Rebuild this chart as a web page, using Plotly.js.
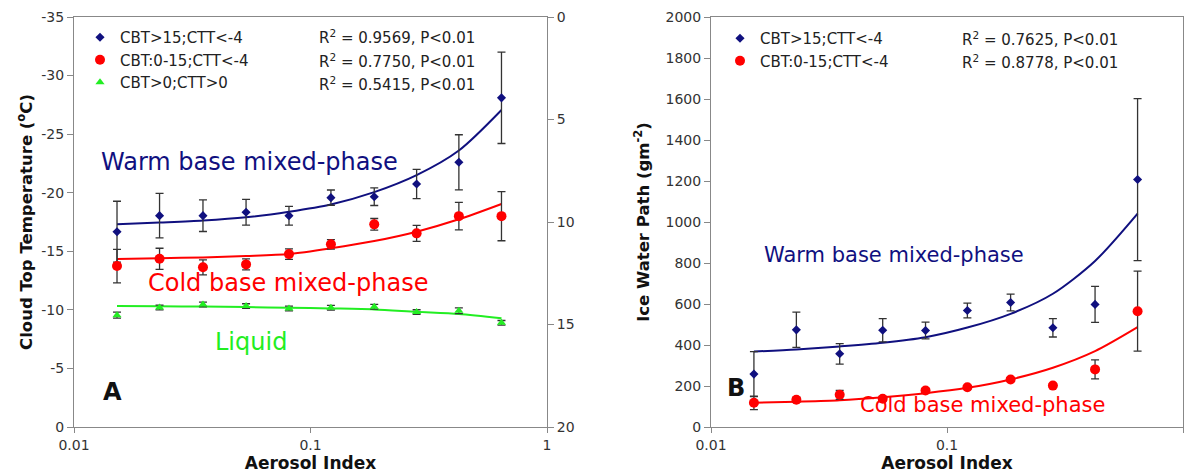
<!DOCTYPE html>
<html>
<head>
<meta charset="utf-8">
<script src="https://cdn.plot.ly/plotly-3.0.1.min.js"></script>
<style>html,body{margin:0;padding:0;background:#fff;}#chart{width:1186px;height:475px;}</style>
</head>
<body>
<div id="chart"></div>
<script>
// ---------- data ----------
const aerosolIndex = [0.0152, 0.023, 0.0351, 0.0534, 0.0811, 0.122, 0.186, 0.281, 0.424, 0.642];

// Panel A : cloud top temperature (°C)
const cttWarm     = [-16.67, -18.04, -18.04, -18.33, -18.04, -19.58, -19.66, -20.75, -22.6, -28.1];
const cttWarmErr  = [2.6, 1.9, 1.35, 1.1, 0.8, 0.65, 0.75, 1.25, 2.35, 3.9];
const cttWarmFit  = [-17.3, -17.45, -17.62, -17.9, -18.38, -19.0, -20.05, -21.5, -23.6, -27.06];
const cttCold     = [-13.74, -14.36, -13.63, -13.88, -14.76, -15.59, -17.3, -16.53, -18.0, -18.0];
const cttColdErr  = [1.43, 0.9, 0.64, 0.47, 0.45, 0.4, 0.5, 0.68, 1.17, 2.1];
const cttColdFit  = [-14.34, -14.4, -14.48, -14.59, -14.76, -15.25, -15.87, -16.67, -17.73, -19.04];
const cttLiq      = [-9.55, -10.2, -10.46, -10.32, -10.12, -10.18, -10.26, -9.81, -9.92, -8.89];
const cttLiqErr   = [0.25, 0.2, 0.2, 0.2, 0.2, 0.2, 0.2, 0.2, 0.25, 0.2];
const cttLiqFit   = [-10.32, -10.3, -10.28, -10.24, -10.18, -10.12, -10.04, -9.83, -9.64, -9.28];

// Panel B : ice water path (g m-2)
const iwpWarm     = [258, 474, 357, 472, 471, 568, 607, 484, 598, 1207];
const iwpWarmErr  = [110, 86, 50, 57, 41, 36, 41, 45, 88, 395];
const iwpWarmFit  = [368, 378, 393, 411, 438, 485, 552, 650, 810, 1041];
const iwpCold     = [118, 133, 157, 138, 178, 194, 232, 202, 281, 565];
const iwpColdErr  = [33, 12, 22, 10, 10, 8, 8, 8, 46, 195];
const iwpColdFit  = [118, 123, 130, 145, 165, 191, 232, 289, 370, 487];

// legend / labels
const seriesNames = ['CBT&gt;15;CTT&lt;-4', 'CBT:0-15;CTT&lt;-4', 'CBT&gt;0;CTT&gt;0'];
const statsA = ['R<sup>2</sup> = 0.9569, P&lt;0.01', 'R<sup>2</sup> = 0.7750, P&lt;0.01', 'R<sup>2</sup> = 0.5415, P&lt;0.01'];
const statsB = ['R<sup>2</sup> = 0.7625, P&lt;0.01', 'R<sup>2</sup> = 0.8778, P&lt;0.01'];

// ticks
const xTickVals = [0.01, 0.1, 1];
const xTickText = ['0.01', '0.1', '1'];
const ctTickVals = [0, -5, -10, -15, -20, -25, -30, -35];
const ctTickText = ['0', '-5', '-10', '-15', '-20', '-25', '-30', '-35'];
const rightTickVals = [0, 5, 10, 15, 20];
const rightTickText = ['0', '5', '10', '15', '20'];
const iwpTickVals = [0, 200, 400, 600, 800, 1000, 1200, 1400, 1600, 1800, 2000];
const iwpTickText = ['0', '200', '400', '600', '800', '1000', '1200', '1400', '1600', '1800', '2000'];

// ---------- styling ----------
const W = 1186, H = 475;
const FONT = 'DejaVu Sans';
const NAVY = '#10107f', RED = '#ff0000', GREEN = '#22ee22';
const px = v => v / W, py = v => 1 - v / H;
const errStyle = arr => ({type: 'data', array: arr, visible: true, color: '#333', thickness: 1.3, width: 4});

function fit(y, color, xa, ya) {
  return {x: aerosolIndex, y: y, xaxis: xa, yaxis: ya, mode: 'lines', showlegend: false, hoverinfo: 'skip',
          line: {color: color, width: 2, shape: 'spline', smoothing: 0.8}};
}
function pts(y, err, name, sym, size, color, xa, ya, leg) {
  return {x: aerosolIndex, y: y, xaxis: xa, yaxis: ya, mode: 'markers', name: name, legend: leg,
          marker: {symbol: sym, size: size, color: color}, error_y: errStyle(err)};
}

const traces = [
  fit(cttWarmFit, NAVY, 'x', 'y'),
  fit(cttColdFit, RED, 'x', 'y'),
  fit(cttLiqFit, GREEN, 'x', 'y'),
  pts(cttWarm, cttWarmErr, seriesNames[0], 'diamond', 7, NAVY, 'x', 'y', 'legend'),
  pts(cttCold, cttColdErr, seriesNames[1], 'circle', 10, RED, 'x', 'y', 'legend'),
  pts(cttLiq, cttLiqErr, seriesNames[2], 'triangle-up', 8, GREEN, 'x', 'y', 'legend'),
  {x: [], y: [], xaxis: 'x', yaxis: 'y2', mode: 'markers', showlegend: false},
  fit(iwpWarmFit, NAVY, 'x2', 'y3'),
  fit(iwpColdFit, RED, 'x2', 'y3'),
  pts(iwpWarm, iwpWarmErr, seriesNames[0], 'diamond', 7, NAVY, 'x2', 'y3', 'legend2'),
  pts(iwpCold, iwpColdErr, seriesNames[1], 'circle', 10, RED, 'x2', 'y3', 'legend2')
];

const tickFont = {family: FONT, size: 14, color: '#333'};
const axisBase = {showline: true, linecolor: '#888', linewidth: 1, ticks: 'outside', ticklen: 6,
                  tickcolor: '#888', showgrid: false, zeroline: false, tickfont: tickFont, fixedrange: true};
const titleFont = {family: FONT, size: 16.5, color: '#111'};
const yDom = [1 - 427 / H, 1 - 17 / H];

const annText = (text, x, y, size, color, anchor) => ({
  text: text, x: px(x), y: py(y), xref: 'paper', yref: 'paper', xanchor: anchor || 'left', yanchor: 'middle',
  showarrow: false, font: {family: FONT, size: size, color: color}
});

const annotations = [
  annText('Warm base mixed-phase', 99, 162, 24, NAVY),
  annText('Cold base mixed-phase', 146, 283, 24, RED),
  annText('Liquid', 213, 342, 24, GREEN),
  annText('<b>A</b>', 101, 392, 24, '#111'),
  annText(statsA[0], 317, 37, 15, '#222'),
  annText(statsA[1], 317, 61, 15, '#222'),
  annText(statsA[2], 317, 84, 15, '#222'),
  annText('Warm base mixed-phase', 762, 255, 21, NAVY),
  annText('Cold base mixed-phase', 858, 405, 21, RED),
  annText('<b>B</b>', 725, 388, 24, '#111'),
  annText(statsB[0], 960, 39, 15, '#222'),
  annText(statsB[1], 960, 62, 15, '#222')
];

const layout = {
  width: W, height: H, margin: {l: 0, r: 0, t: 0, b: 0},
  paper_bgcolor: '#fff', plot_bgcolor: '#fff', font: {family: FONT, color: '#333'},
  xaxis: Object.assign({}, axisBase, {domain: [px(74), px(547)], anchor: 'y', type: 'log', range: [-2, 0],
    tickmode: 'array', tickvals: xTickVals, ticktext: xTickText, mirror: true, ticklen: 5,
    title: {text: '<b>Aerosol Index</b>', font: {family: FONT, size: 17, color: '#111'}, standoff: 1}}),
  yaxis: Object.assign({}, axisBase, {domain: yDom, anchor: 'x', range: [0, -35],
    tickmode: 'array', tickvals: ctTickVals, ticktext: ctTickText,
    title: {text: '<b>Cloud Top Temperature (<sup>o</sup>C)</b>', font: titleFont, standoff: 4}}),
  yaxis2: Object.assign({}, axisBase, {overlaying: 'y', side: 'right', anchor: 'x', range: [20, 0],
    tickmode: 'array', tickvals: rightTickVals, ticktext: rightTickText}),
  xaxis2: Object.assign({}, axisBase, {domain: [px(711), px(1183)], anchor: 'y3', type: 'log', range: [-2, 0],
    tickmode: 'array', tickvals: xTickVals, ticktext: xTickText, mirror: true, ticklen: 5,
    title: {text: '<b>Aerosol Index</b>', font: {family: FONT, size: 17, color: '#111'}, standoff: 1}}),
  yaxis3: Object.assign({}, axisBase, {domain: yDom, anchor: 'x2', range: [0, 2000], mirror: true,
    tickmode: 'array', tickvals: iwpTickVals, ticktext: iwpTickText,
    title: {text: '<b>Ice Water Path (gm<sup>-2</sup>)</b>', font: titleFont, standoff: 11}}),
  legend: {x: px(80), y: py(21), xanchor: 'left', yanchor: 'top', bgcolor: 'rgba(0,0,0,0)',
           font: {family: FONT, size: 15, color: '#222'}, itemwidth: 30, tracegroupgap: 0},
  legend2: {x: px(720), y: py(22), xanchor: 'left', yanchor: 'top', bgcolor: 'rgba(0,0,0,0)',
            font: {family: FONT, size: 15, color: '#222'}, itemwidth: 30, tracegroupgap: 0},
  annotations: annotations,
  showlegend: true
};

Plotly.newPlot('chart', traces, layout, {displayModeBar: false, staticPlot: true});
</script>
</body>
</html>
